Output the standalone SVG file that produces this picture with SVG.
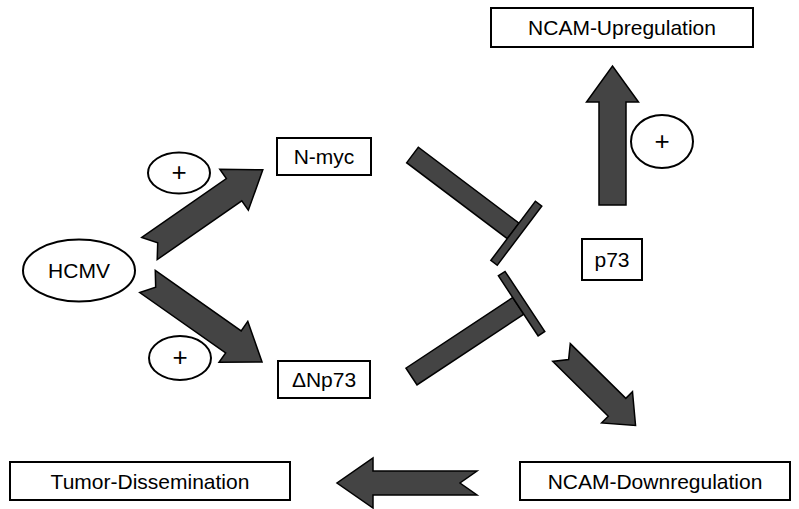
<svg xmlns="http://www.w3.org/2000/svg" width="799" height="509" viewBox="0 0 799 509">
<style>
.box{fill:#fff;stroke:#000;stroke-width:2}
.ell{fill:#fff;stroke:#000;stroke-width:2}
.arr{fill:#444;stroke:#000;stroke-width:1.5;stroke-linejoin:miter}
.lbl{font-family:"Liberation Sans",Arial,sans-serif;font-size:21px;fill:#000;text-anchor:middle;dominant-baseline:central}
.plus{font-family:"Liberation Sans",Arial,sans-serif;font-size:26px;fill:#000;text-anchor:middle;dominant-baseline:central}
</style>
<rect width="799" height="509" fill="#fff"/>
<g id="connectors">
  <path class="arr" transform="translate(149.5,248.5) rotate(-34.8)" d="M0,-13.5 L103,-13.5 L103,-25 L138,0 L103,25 L103,13.5 L0,13.5 L10,0 Z"/>
  <path class="arr" transform="translate(147.5,281.5) rotate(35.1)" d="M0,-13.5 L105,-13.5 L105,-25 L140,0 L105,25 L105,13.5 L0,13.5 L10,0 Z"/>
  <path class="arr" transform="translate(561.5,352.5) rotate(44.6)" d="M0,-12.5 L78,-12.5 L78,-22 L104,0 L78,22 L78,12.5 L0,12.5 L10,0 Z"/>
  <path class="arr" transform="translate(477,483) rotate(180)" d="M0,-12 L104,-12 L104,-25 L140,0 L104,25 L104,12 L0,12 L17,0 Z"/>
  <path class="arr" transform="translate(612.5,205) rotate(-90)" d="M0,-13.5 L103,-13.5 L103,-26 L139,0 L103,26 L103,13.5 L0,13.5 Z"/>
  <g transform="translate(412.5,155) rotate(37)">
    <rect class="arr" x="0" y="-9.7" width="126" height="19.4"/>
    <rect class="arr" x="126" y="-37" width="8" height="74"/>
  </g>
  <g transform="translate(411.5,376.5) rotate(-33.5)">
    <rect class="arr" x="0" y="-10" width="128" height="20"/>
    <rect class="arr" x="128" y="-36" width="8" height="72"/>
  </g>
</g>
<g id="hcmv">
  <ellipse class="ell" cx="79" cy="270.5" rx="56" ry="31"/>
  <text class="lbl" x="79" y="270.5">HCMV</text>
</g>
<g id="plus1">
  <ellipse class="ell" cx="179" cy="173" rx="31" ry="20.5"/>
  <text class="plus" x="179" y="172">+</text>
</g>
<g id="plus2">
  <ellipse class="ell" cx="180" cy="358" rx="31" ry="22"/>
  <text class="plus" x="180" y="357">+</text>
</g>
<g id="plus3">
  <ellipse class="ell" cx="662" cy="141.5" rx="31" ry="26.5"/>
  <text class="plus" x="662" y="140.5">+</text>
</g>
<g id="nmyc">
  <rect class="box" x="277" y="138" width="94" height="37"/>
  <text class="lbl" x="324" y="156.5">N-myc</text>
</g>
<g id="dnp73">
  <rect class="box" x="278" y="361" width="92" height="37"/>
  <text class="lbl" x="324" y="379.5">ΔNp73</text>
</g>
<g id="p73">
  <rect class="box" x="582" y="239" width="60" height="41"/>
  <text class="lbl" x="612" y="259.5">p73</text>
</g>
<g id="ncam-up">
  <rect class="box" x="491" y="8" width="262" height="39"/>
  <text class="lbl" x="622" y="27.5">NCAM-Upregulation</text>
</g>
<g id="tumor">
  <rect class="box" x="10" y="462" width="280" height="38"/>
  <text class="lbl" x="150" y="481">Tumor-Dissemination</text>
</g>
<g id="ncam-down">
  <rect class="box" x="520" y="462" width="270" height="38"/>
  <text class="lbl" x="655" y="481">NCAM-Downregulation</text>
</g>
</svg>
